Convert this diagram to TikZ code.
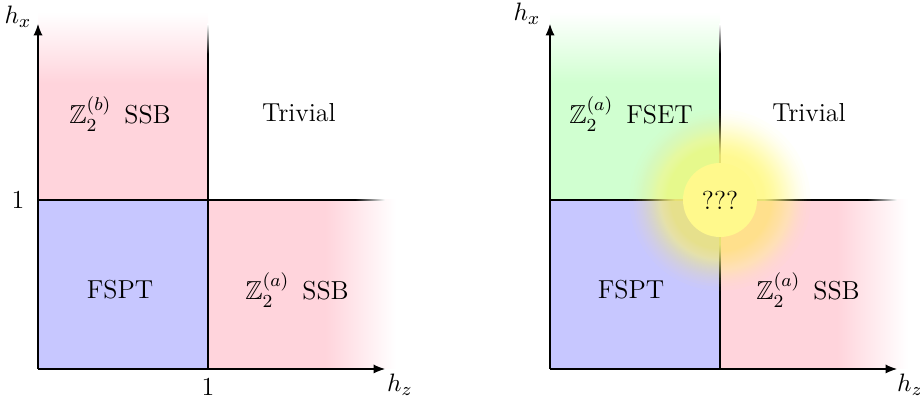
\documentclass[tikz,border=0pt]{standalone}
\usepackage{amssymb}
\usetikzlibrary{arrows.meta}
\definecolor{phpink}{RGB}{255,212,220}
\definecolor{phblue}{RGB}{199,199,255}
\definecolor{phgreen}{RGB}{208,255,208}
\definecolor{phyellow}{RGB}{255,249,140}
\begin{document}
\begin{tikzpicture}[x=0.4348pt,y=0.4348pt,
  every node/.style={font=\fontsize{11.3}{13.5}\selectfont},
  thinline/.style={line width=0.5pt},
  thickline/.style={line width=0.8pt},
  axisline/.style={line width=0.5pt,-{Latex[length=5pt,width=4pt]}},
  lbl/.style={inner sep=1pt}]
\useasboundingbox (0,0) rectangle (920,404);
% ---------- left panel ----------
\begin{scope}
\coordinate (Lo) at (38,35);
\coordinate (Ly) at (38,380);
\coordinate (Lx) at (385,35);
\coordinate (Lc) at (208,204);
\coordinate (Lhl) at (38,204);
\coordinate (Lhr) at (365,204);
\coordinate (Lvb) at (208,35);
\coordinate (Lvt) at (208,360);
\fill[phpink] (38,204) rectangle (208,339);
\shade[top color=white,bottom color=phpink] (38,321) rectangle (208,392);
\fill[phblue] (38,35) rectangle (208,204);
\fill[phpink] (208,35) rectangle (343,204);
\shade[left color=phpink,right color=white] (325,35) rectangle (396,204);
\draw[thickline] (Lhl) -- (Lc);
\draw[thinline] (Lc) -- (Lhr);
\shade[left color=black,right color=white] (355,203.4) rectangle (385,204.6);
\draw[thinline] (Lvb) -- (Lvt);
\shade[bottom color=black,top color=white] (207.4,350) rectangle (208.6,380);
\draw[axisline] (Lo) -- (Ly);
\draw[axisline] (Lo) -- (Lx);
\node[lbl] (Lhx) at (18,387) {$h_x$};
\node[lbl] (Lhz) at (400,19) {$h_z$};
\node[lbl] (Lone1) at (18,204) {1};
\node[lbl] (Lone2) at (208,17) {1};
\node (LSSBb) at (120,290) {$\mathbb{Z}_2^{(b)}$\enspace SSB};
\node (LTriv) at (299,291) {Trivial};
\node (LFSPT) at (120,114) {FSPT};
\node (LSSBa) at (297,114) {$\mathbb{Z}_2^{(a)}$\enspace SSB};
\end{scope}
% ---------- right panel ----------
\begin{scope}[shift={(512,0)}]
\coordinate (Ro) at (38,35);
\coordinate (Ry) at (38,380);
\coordinate (Rx) at (385,35);
\coordinate (Rc) at (208,204);
\coordinate (Rhl) at (38,204);
\coordinate (Rhr) at (365,204);
\coordinate (Rvb) at (208,35);
\coordinate (Rvt) at (208,360);
\fill[phgreen] (38,204) rectangle (208,339);
\shade[top color=white,bottom color=phgreen] (38,321) rectangle (208,392);
\fill[phblue] (38,35) rectangle (208,204);
\fill[phpink] (208,35) rectangle (343,204);
\shade[left color=phpink,right color=white] (325,35) rectangle (396,204);
\draw[thickline] (Rhl) -- (Rc);
\draw[thinline] (Rc) -- (Rhr);
\shade[left color=black,right color=white] (355,203.4) rectangle (385,204.6);
\draw[thinline] (Rvb) -- (Rvt);
\shade[bottom color=black,top color=white] (207.4,350) rectangle (208.6,380);
% glow: stacked translucent discs
\foreach \k in {1,...,100}{
  \pgfmathsetmacro\rr{36+60*acos(2*(1-0.96^(\k-0.5))-1)/180}
  \fill[phyellow,opacity=0.04] (Rc) circle (\rr);
}
\fill[phyellow] (Rc) circle (37);
\draw[axisline] (Ro) -- (Ry);
\draw[axisline] (Ro) -- (Rx);
\node[lbl] (Rhx) at (15,390) {$h_x$};
\node[lbl] (Rhz) at (398,19) {$h_z$};
\node (RFSET) at (119,290) {$\mathbb{Z}_2^{(a)}$\enspace FSET};
\node (RTriv) at (297,291) {Trivial};
\node (RFSPT) at (119,114) {FSPT};
\node (RSSBa) at (296,114) {$\mathbb{Z}_2^{(a)}$\enspace SSB};
\node (Rq) at (Rc) {???};
\end{scope}
\end{tikzpicture}
\end{document}
